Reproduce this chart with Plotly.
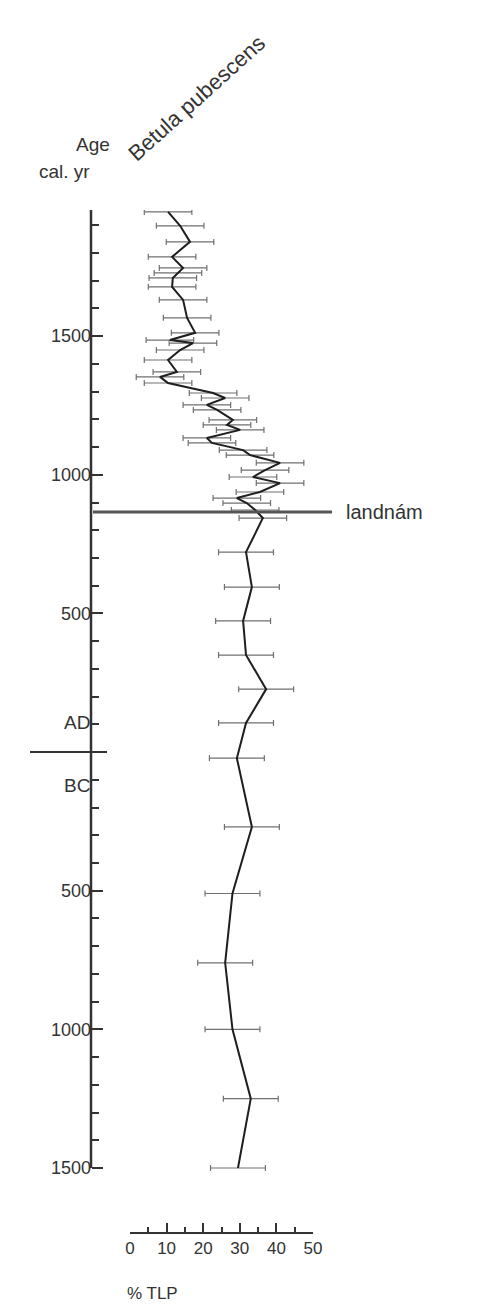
import plotly.graph_objects as go

ages = [1948, 1898, 1840, 1786, 1746, 1728, 1710, 1678, 1631, 1566, 1512, 1486, 1475, 1450,
        1414, 1371, 1353, 1331, 1295, 1277, 1252, 1234, 1198, 1180, 1162, 1133, 1115, 1089,
        1071, 1043, 1017, 992, 970, 938, 916, 898, 873, 844, 721, 595, 473, 350, 227, 105,
        -22, -270, -510, -760, -1000, -1250, -1500]
betula = [10.4, 13.7, 16.4, 11.5, 14.5, 13.1, 11.7, 11.5, 14.5, 15.6, 17.8, 10.9, 17.2, 13.7,
          10.4, 12.8, 8.2, 10.4, 22.7, 26.0, 21.0, 23.8, 28.1, 26.5, 30.1, 21.0, 22.4, 30.9,
          32.8, 41.0, 36.9, 33.6, 41.0, 35.5, 29.2, 31.9, 34.2, 36.3, 31.7, 33.3, 30.9, 31.7,
          37.2, 31.7, 29.2, 33.3, 28.0, 26.0, 28.0, 33.0, 29.5]
err = [6.5] * 38 + [7.5] * 13
ytick_vals = [-1500, -1000, -500, 500, 1000, 1500]
ytick_text = ["1500", "1000", "500", "500", "1000", "1500"]
yminor_vals = [v for v in range(-1500, 1901, 100) if v not in ytick_vals]
xtick_vals = [0, 10, 20, 30, 40, 50]

W, H = 479, 1312
O = 8  # page body offset
top, bot = 210 - O, 1233 - O
ymin = -1500 - (1233 - 1168) / 0.2772
ymax = 1955

def px(x):
    return (x - O) / W

def py(y):
    return 1 - ((y - O) - top) / (bot - top)

fig = go.Figure(go.Scatter(
    x=betula, y=ages, mode="lines",
    line=dict(color="#1e1e1e", width=2),
    error_x=dict(type="data", array=err, color="#707070", thickness=1.2, width=3),
    cliponaxis=False))

fig.update_layout(
    width=W, height=H, margin=dict(l=0, r=0, t=top, b=H - bot, pad=0, autoexpand=False),
    paper_bgcolor="white", plot_bgcolor="white", showlegend=False,
    font=dict(family="Liberation Sans, Arial", size=15, color="#333"),
    xaxis=dict(domain=[px(130), px(313)], range=[0, 50], anchor="free", automargin=False,
               position=0, showgrid=False, zeroline=False,
               showline=True, linecolor="#333", linewidth=2, ticks="inside", ticklen=9,
               tickwidth=1.5, tickcolor="#333", tickvals=xtick_vals, tickfont=dict(size=17),
               minor=dict(dtick=5, ticks="inside", ticklen=5, tickcolor="#333")),
    yaxis=dict(range=[ymin, ymax], anchor="free", position=px(91), showgrid=False,
               automargin=False, zeroline=False, showline=False,
               ticks="inside", ticklen=11, tickwidth=2, tickcolor="#333",
               tickvals=ytick_vals, ticktext=ytick_text, tickfont=dict(size=18),
               minor=dict(tickvals=yminor_vals, ticks="inside", ticklen=7, tickwidth=2,
                          tickcolor="#333")),
    shapes=[
        dict(type="line", xref="paper", yref="y", x0=px(91), x1=px(91), y0=-1500, y1=ymax,
             line=dict(color="#333", width=2.5)),
        dict(type="line", xref="paper", yref="y", x0=px(93), x1=px(332), y0=866, y1=866,
             line=dict(color="#555", width=3)),
        dict(type="line", xref="paper", yref="y", x0=px(30), x1=px(107), y0=0, y1=0,
             line=dict(color="#333", width=2)),
    ],
    annotations=[
        dict(text="landnám", xref="paper", yref="y", x=px(344), y=866, xanchor="left",
             showarrow=False, font=dict(size=20)),
        dict(text="AD", xref="paper", yref="y", x=px(62), y=108, showarrow=False, font=dict(size=19)),
        dict(text="BC", xref="paper", yref="y", x=px(62), y=-120, showarrow=False, font=dict(size=19)),
        dict(text="Age", xref="paper", yref="paper", x=px(74), y=py(144),
             showarrow=False, yanchor="middle", font=dict(size=19)),
        dict(text="cal. yr", xref="paper", yref="paper", x=px(37), xanchor="left",
             y=py(171), showarrow=False, yanchor="middle", font=dict(size=19)),
        dict(text="Betula pubescens", xref="paper", yref="paper", x=px(196),
             y=py(98), xanchor="center", yanchor="middle",
             showarrow=False, textangle=-42, font=dict(size=22)),
        dict(text="% TLP", xref="paper", yref="paper", x=px(125), xanchor="left",
             y=py(1293), showarrow=False, yanchor="middle", font=dict(size=17)),
    ])
fig.write_html("out.html")
